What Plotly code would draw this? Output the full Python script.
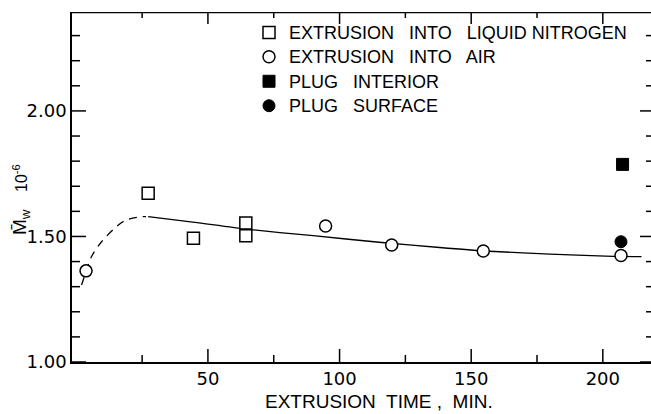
import plotly.graph_objects as go

# Weight-average molecular weight vs. extrusion time
ln2_time = [27.3, 44.5, 64.4, 64.4]
ln2_mw = [1.672, 1.493, 1.554, 1.503]

air_time = [3.7, 94.7, 119.8, 154.6, 206.9]
air_mw = [1.363, 1.542, 1.466, 1.442, 1.424]

interior_time = [207.5]
interior_mw = [1.787]

surface_time = [206.9]
surface_mw = [1.479]

# Hand-drawn trend curve: dashed start-up section, solid steady section
dash_time = [2.0, 3.7, 5.8, 9.6, 16.0, 19.1, 24.0, 26.5]
dash_mw = [1.307, 1.360, 1.420, 1.479, 1.546, 1.566, 1.578, 1.579]
solid_time = [27.3, 45.0, 64.5, 90.0, 115.0, 138.0, 155.0, 180.0, 201.0, 214.7]
solid_mw = [1.579, 1.556, 1.529, 1.503, 1.477, 1.456, 1.442, 1.430, 1.422, 1.420]

x_major = [50, 100, 150, 200]
x_minor = [25, 75, 125, 175]
y_major = [1.0, 1.5, 2.0]
y_minor = [1.1, 1.2, 1.3, 1.4, 1.6, 1.7, 1.8, 1.9, 2.1, 2.2, 2.3]

X_RANGE = [-1.63, 218.3]
Y_RANGE = [1.0, 2.394]
PLOT_W, PLOT_H = 579, 350

TXT = "Liberation Sans"
NUM = "DejaVu Sans"

# data units per pixel, used to size the inward tick marks
DX = (X_RANGE[1] - X_RANGE[0]) / PLOT_W
DY = (Y_RANGE[1] - Y_RANGE[0]) / PLOT_H

fig = go.Figure()


def frame_ticks():
    """Inward ticks on all four sides plus the top edge of the frame."""
    xs, ys = [], []
    for vals, bot, top in ((x_minor, 7, 6), (x_major, 13, 12)):
        for v in vals:
            xs += [v, v, None, v, v, None]
            ys += [Y_RANGE[0], Y_RANGE[0] + bot * DY, None,
                   Y_RANGE[1], Y_RANGE[1] - top * DY, None]
    for vals, left, right in ((y_minor, 8, 5), (y_major, 14, 11)):
        for v in vals:
            xs += [X_RANGE[0], X_RANGE[0] + left * DX, None,
                   X_RANGE[1], X_RANGE[1] - right * DX, None]
            ys += [v, v, None, v, v, None]
    xs += [X_RANGE[0], X_RANGE[1]]
    ys += [Y_RANGE[1] - 0.5 * DY, Y_RANGE[1] - 0.5 * DY]
    return xs, ys


tx, ty = frame_ticks()
fig.add_trace(go.Scatter(x=tx, y=ty, mode="lines", showlegend=False, hoverinfo="skip",
                         line=dict(color="black", width=1.5), cliponaxis=False))

fig.add_trace(go.Scatter(x=dash_time, y=dash_mw, mode="lines", showlegend=False,
                         line=dict(color="black", width=1.3, dash="8px,6px", shape="spline", smoothing=0.8),
                         hoverinfo="skip"))
fig.add_trace(go.Scatter(x=solid_time, y=solid_mw, mode="lines", showlegend=False,
                         line=dict(color="black", width=1.3, shape="spline", smoothing=0.6),
                         hoverinfo="skip"))


def legend_label(s):
    return f"<span style='font-size:18px'>{s}</span>"


fig.add_trace(go.Scatter(x=ln2_time, y=ln2_mw, mode="markers",
                         name=legend_label("EXTRUSION   INTO   LIQUID NITROGEN"),
                         marker=dict(symbol="square", size=12, color="white",
                                     line=dict(color="black", width=1.5))))
fig.add_trace(go.Scatter(x=air_time, y=air_mw, mode="markers",
                         name=legend_label("EXTRUSION   INTO   AIR"),
                         marker=dict(symbol="circle", size=12, color="white",
                                     line=dict(color="black", width=1.5))))
fig.add_trace(go.Scatter(x=interior_time, y=interior_mw, mode="markers",
                         name=legend_label("PLUG   INTERIOR"),
                         marker=dict(symbol="square", size=12, color="black",
                                     line=dict(color="black", width=1))))
fig.add_trace(go.Scatter(x=surface_time, y=surface_mw, mode="markers",
                         name=legend_label("PLUG   SURFACE"),
                         marker=dict(symbol="circle", size=12, color="black",
                                     line=dict(color="black", width=1))))

fig.update_layout(
    template="none",
    width=651, height=414,
    margin=dict(l=72, r=0, t=12, b=52),
    paper_bgcolor="white", plot_bgcolor="white",
    font=dict(family=TXT, color="black", size=18),
    legend=dict(x=(249 - 72) / PLOT_W, y=0.991, xanchor="left", yanchor="top",
                bgcolor="rgba(0,0,0,0)", font=dict(family=TXT, size=16.5),
                tracegroupgap=0, itemsizing="trace"),
    xaxis=dict(range=X_RANGE, showgrid=False, zeroline=False,
               showline=True, linecolor="black", linewidth=1.5,
               ticks="", tickmode="array", tickvals=x_major, ticktext=[str(v) for v in x_major],
               tickfont=dict(family=NUM, size=18)),
    yaxis=dict(range=Y_RANGE, showgrid=False, zeroline=False,
               showline=True, linecolor="black", linewidth=1.5,
               ticks="", tickmode="array", tickvals=y_major, ticktext=[f"{v:.2f}" for v in y_major],
               tickfont=dict(family=NUM, size=18)),
)

fig.add_annotation(text="EXTRUSION  TIME ,  MIN.", xref="paper", yref="paper",
                   x=(379 - 72) / PLOT_W, y=1 - (401 - 12) / PLOT_H, showarrow=False,
                   font=dict(family=TXT, size=19), xanchor="center", yanchor="middle")
fig.add_annotation(text="M\u0304<sub>w</sub>", xref="paper", yref="paper",
                   x=(21 - 72) / PLOT_W, y=1 - (222 - 12) / PLOT_H, showarrow=False, textangle=-90,
                   font=dict(family=TXT, size=19), xanchor="center", yanchor="middle")
fig.add_annotation(text="10<sup>-6</sup>", xref="paper", yref="paper",
                   x=(20 - 72) / PLOT_W, y=1 - (178 - 12) / PLOT_H, showarrow=False, textangle=-90,
                   font=dict(family=TXT, size=16), xanchor="center", yanchor="middle")

fig.write_html("out.html")
